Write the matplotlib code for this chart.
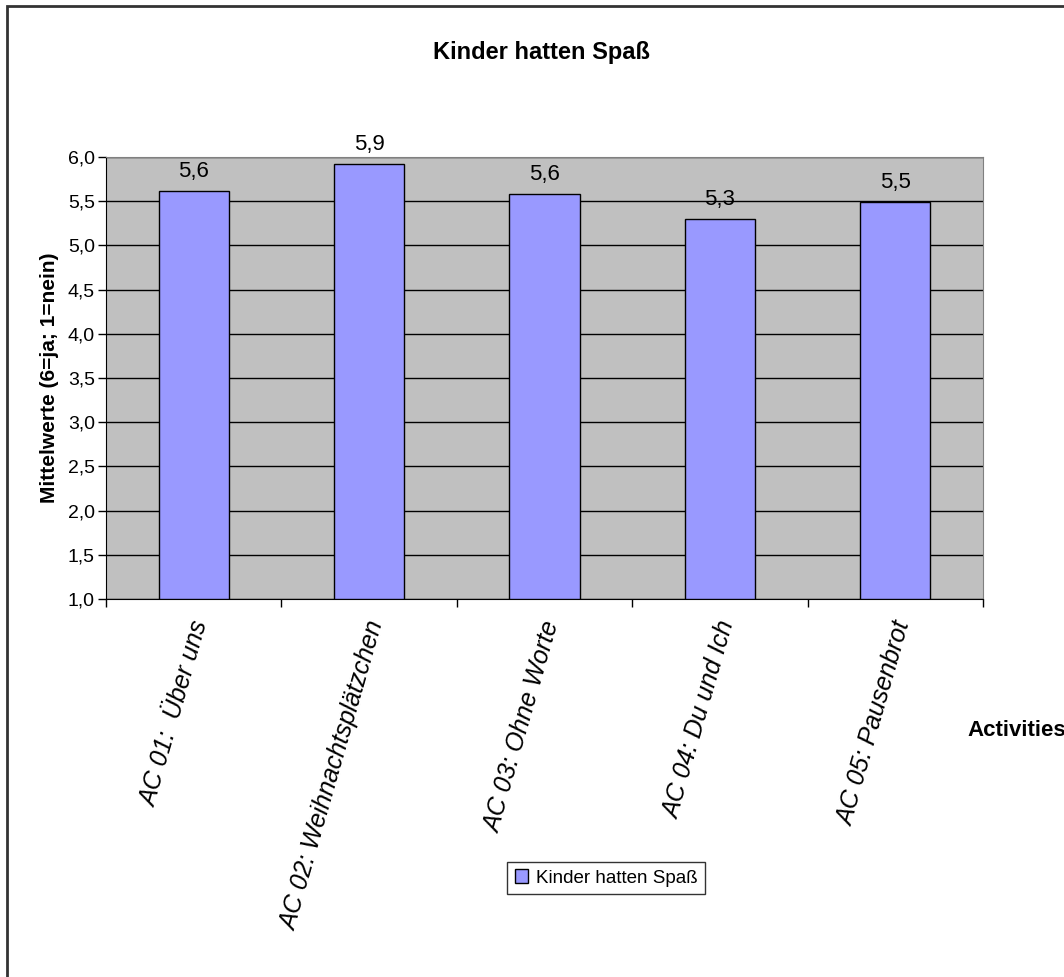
import matplotlib.pyplot as plt
from matplotlib.patches import Rectangle

plt.rcParams['font.family'] = ['Liberation Sans', 'DejaVu Sans']

categories = ['AC 01:  Über uns', 'AC 02: Weihnachtsplätzchen', 'AC 03: Ohne Worte',
              'AC 04: Du und Ich', 'AC 05: Pausenbrot']
values = [5.62, 5.92, 5.58, 5.30, 5.49]
y_ticks = [1.0, 1.5, 2.0, 2.5, 3.0, 3.5, 4.0, 4.5, 5.0, 5.5, 6.0]
series_name = 'Kinder hatten Spaß'

W, H = 1064, 977
fig = plt.figure(figsize=(W / 100, H / 100), dpi=100)

# outer chart frame (runs off right and bottom edge)
fig.patches.append(Rectangle((7 / W, -0.05), 1.2, 1 - 6 / H + 0.05, transform=fig.transFigure,
                             fill=False, edgecolor='#333333', linewidth=2))

left, right, top, bottom = 106, 983, 157, 599
ax = fig.add_axes([left / W, 1 - bottom / H, (right - left) / W, (bottom - top) / H])
ax.set_facecolor('#c0c0c0')

x = list(range(len(categories)))
bars = ax.bar(x, [v - 1.0 for v in values], bottom=1.0, width=0.4,
              color='#9999ff', edgecolor='black', linewidth=1, zorder=3)

ax.set_xlim(-0.5, len(categories) - 0.5)
ax.set_ylim(1.0, 6.0)
ax.set_yticks(y_ticks)
ax.set_yticklabels([f'{t:.1f}'.replace('.', ',') for t in y_ticks], fontsize=14)
ax.yaxis.grid(True, color='black', linewidth=1, zorder=1)
ax.set_axisbelow(True)

ax.set_xticks([i - 0.5 for i in range(len(categories) + 1)])
ax.set_xticklabels([])
ax.tick_params(axis='x', length=6, width=1, color='black')
ax.tick_params(axis='y', length=6, width=1, color='black', pad=2)

for i, lab in enumerate(categories):
    ax.text(i - 0.02, -0.045, lab, rotation=74, ha='right', va='top', rotation_mode='anchor',
            fontsize=18, fontstyle='italic', transform=ax.get_xaxis_transform())

for i, v in enumerate(values):
    ax.text(i, v + 0.1, f'{v:.1f}'.replace('.', ','), ha='center', va='bottom', fontsize=16)

for side in ['top', 'right']:
    ax.spines[side].set_color('#808080')
for side in ['left', 'bottom']:
    ax.spines[side].set_color('black')

ax.set_ylabel('Mittelwerte (6=ja; 1=nein)', fontsize=15, fontweight='bold', labelpad=6)

fig.text(541 / W, 1 - 52 / H, 'Kinder hatten Spaß', ha='center', va='center',
         fontsize=17, fontweight='bold')
fig.text(967 / W, 1 - 731 / H, 'Activities', ha='left', va='center',
         fontsize=16, fontweight='bold')

leg = fig.legend([bars], [series_name], loc='center', bbox_to_anchor=(606 / W, 1 - 878 / H),
                 fontsize=13.5, frameon=True, fancybox=False, edgecolor='black',
                 handlelength=0.7, handleheight=0.7, handletextpad=0.4, borderpad=0.4)
leg.get_frame().set_linewidth(1)

fig.savefig('out.png', dpi=100, facecolor='white')
